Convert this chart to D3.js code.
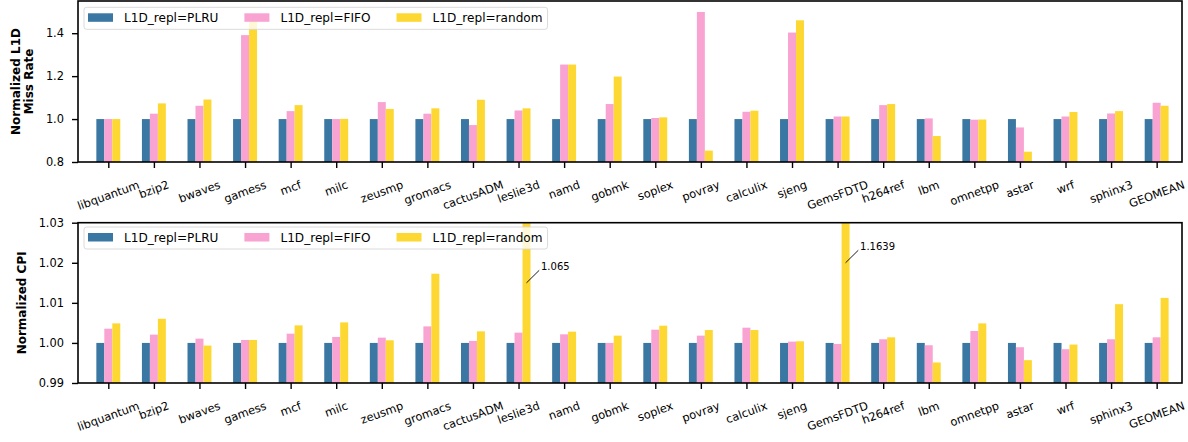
<!DOCTYPE html>
<html><head><meta charset="utf-8">
<script src="https://cdn.jsdelivr.net/npm/d3@7"></script>
<style>body{margin:0;background:#fff} svg text{font-family:"DejaVu Sans",sans-serif;fill:#000}</style>
</head><body><svg id="c" width="1188" height="442"></svg>
<script>
const categories = ["libquantum","bzip2","bwaves","gamess","mcf","milc","zeusmp","gromacs","cactusADM","leslie3d","namd","gobmk","soplex","povray","calculix","sjeng","GemsFDTD","h264ref","lbm","omnetpp","astar","wrf","sphinx3","GEOMEAN"];
const seriesNames = ["L1D_repl=PLRU","L1D_repl=FIFO","L1D_repl=random"];
const seriesColors = ["#3a77a2","#f9a3d2","#fed832"];

const missPLRU = [1,1,1,1,1,1,1,1,1,1,1,1,1,1,1,1,1,1,1,1,1,1,1,1];
const missFIFO = [1.0,1.025,1.062,1.391,1.037,1.0,1.079,1.025,0.972,1.04,1.254,1.07,1.005,1.499,1.034,1.403,1.012,1.065,1.003,0.997,0.961,1.012,1.026,1.076];
const missRandom = [1.0,1.073,1.091,1.46,1.065,1.001,1.047,1.05,1.09,1.05,1.254,1.198,1.008,0.853,1.039,1.46,1.012,1.07,0.921,0.998,0.848,1.033,1.037,1.062];
const missTicks = [0.8,1.0,1.2,1.4];

const cpiPLRU = [1,1,1,1,1,1,1,1,1,1,1,1,1,1,1,1,1,1,1,1,1,1,1,1];
const cpiFIFO = [1.00355,1.00207,1.00107,1.00074,1.00231,1.00149,1.00132,1.00413,1.0005,1.00256,1.00215,1.0,1.0033,1.00182,1.0038,1.00033,0.99975,1.00091,0.99942,1.00298,0.99893,0.99843,1.00091,1.0014];
const cpiRandom = [1.00488,1.00603,0.99934,1.00074,1.00438,1.00512,1.00066,1.01727,1.00289,1.065,1.00281,1.00182,1.0043,1.00322,1.00322,1.00041,1.1639,1.0014,0.99512,1.00488,0.9957,0.99959,1.00967,1.01124];
const cpiTicks = [0.99,1.00,1.01,1.02,1.03];

const cpiAnnotations = [
  {category:"leslie3d", series:2, at:1.015, label:"1.065"},
  {category:"GemsFDTD", series:2, at:1.020, label:"1.1639"}
];

const svg = d3.select("#c");
const X0 = 78, X1 = 1182;

function drawPanel(opt){
  const g = svg.append("g");
  const x = d3.scaleLinear().domain([-0.665, 23.556]).range([X0, X1]);
  const y = d3.scaleLinear().domain(opt.domain).range([opt.bottom, opt.top]);
  const bw = x(0.175) - x(0);
  const series = opt.series;
  const clipId = "clip" + opt.id;
  g.append("clipPath").attr("id", clipId).append("rect")
    .attr("x", X0).attr("y", opt.top).attr("width", X1 - X0).attr("height", opt.bottom - opt.top);
  const bars = g.append("g").attr("clip-path", `url(#${clipId})`);
  series.forEach((vals, si) => {
    bars.selectAll(null).data(vals).enter().append("rect")
      .attr("x", (d,i) => x(i) + (si - 1.5) * bw)
      .attr("width", bw)
      .attr("y", d => y(d))
      .attr("height", d => Math.max(0, y(opt.domain[0]) - y(d)))
      .attr("fill", seriesColors[si]);
  });
  // annotations
  (opt.annotations || []).forEach(a => {
    const i = categories.indexOf(a.category);
    const px = x(i) + (a.series - 1) * bw, py = y(a.at);
    g.append("line").attr("x1", px).attr("y1", py).attr("x2", px + 12.7).attr("y2", py - 12.5)
      .attr("stroke", "#000").attr("stroke-width", 0.9);
    g.append("text").attr("x", px + 14.5).attr("y", py - 16).attr("dy", "0.35em")
      .attr("font-size", "10px").text(a.label);
  });
  // frame
  g.append("rect").attr("x", X0).attr("y", opt.top).attr("width", X1 - X0).attr("height", opt.bottom - opt.top)
    .attr("fill", "none").attr("stroke", "#000").attr("stroke-width", 1.6);
  // y axis
  const ya = g.append("g").attr("transform", `translate(${X0},0)`)
    .call(d3.axisLeft(y).tickValues(opt.ticks).tickFormat(d3.format(opt.fmt)).tickSize(6).tickPadding(8));
  ya.select(".domain").remove();
  ya.selectAll(".tick line").attr("stroke", "#000").attr("stroke-width", 1.4);
  ya.selectAll(".tick text").attr("font-size", "11.4px").attr("fill", "#222").style("font-family", "DejaVu Sans");
  // x axis
  const xa = g.append("g").attr("transform", `translate(0,${opt.bottom})`)
    .call(d3.axisBottom(x).tickValues(d3.range(categories.length)).tickFormat("").tickSize(6));
  xa.select(".domain").remove();
  xa.selectAll(".tick line").attr("stroke", "#000").attr("stroke-width", 1.4);
  const ang = 20 * Math.PI / 180;
  categories.forEach((c, i) => {
    const t = g.append("text").attr("font-size", "11.4px").attr("text-anchor", "middle").attr("dy", "0.35em").attr("fill", "#222").text(c);
    const w = t.node().getComputedTextLength();
    const H = w * Math.sin(ang) + 13 * Math.cos(ang);
    t.attr("transform", `translate(${x(i)},${opt.bottom + 16 + H / 2}) rotate(-20)`);
  });
  // y title
  const cy = (opt.top + opt.bottom) / 2;
  const lines = opt.title;
  const lh = 13.5;
  lines.forEach((ln, k) => {
    const tx = opt.titleX + (k - (lines.length - 1) / 2) * lh;
    g.append("text").attr("transform", `translate(${tx},${cy}) rotate(-90)`)
      .attr("text-anchor", "middle").attr("dy", "0.35em").attr("font-size", "12px").attr("font-weight", "bold").text(ln);
  });
  // legend
  const lg = g.append("g");
  const box = lg.append("rect");
  let px = 88;
  const ly = opt.legendY;
  seriesNames.forEach((n, si) => {
    lg.append("rect").attr("x", px).attr("y", ly + 6).attr("width", 25).attr("height", 8.5).attr("fill", seriesColors[si]);
    const t = lg.append("text").attr("x", px + 36).attr("y", ly + 10.5).attr("dy", "0.35em").attr("font-size", "12.1px").attr("fill", "#222").text(n);
    const w = t.node().getComputedTextLength();
    px = px + 36 + w + 26;
  });
  box.attr("x", 84).attr("y", ly).attr("width", px - 26 + 5 - 84).attr("height", 22).attr("rx", 2.5)
    .attr("fill", "#fff").attr("fill-opacity", 0.8).attr("stroke", "#d6d6d6").attr("stroke-width", 0.9);
}

drawPanel({id:"a", domain:[0.8,1.55], top:1, bottom:162, ticks:missTicks, fmt:".1f",
  series:[missPLRU, missFIFO, missRandom], title:["Normalized L1D","Miss Rate"], titleX:22.5, legendY:7.3});
drawPanel({id:"b", domain:[0.99,1.03], top:222.7, bottom:383, ticks:cpiTicks, fmt:".2f",
  series:[cpiPLRU, cpiFIFO, cpiRandom], title:["Normalized CPI"], titleX:21.5, legendY:227, annotations:cpiAnnotations});
</script></body></html>
